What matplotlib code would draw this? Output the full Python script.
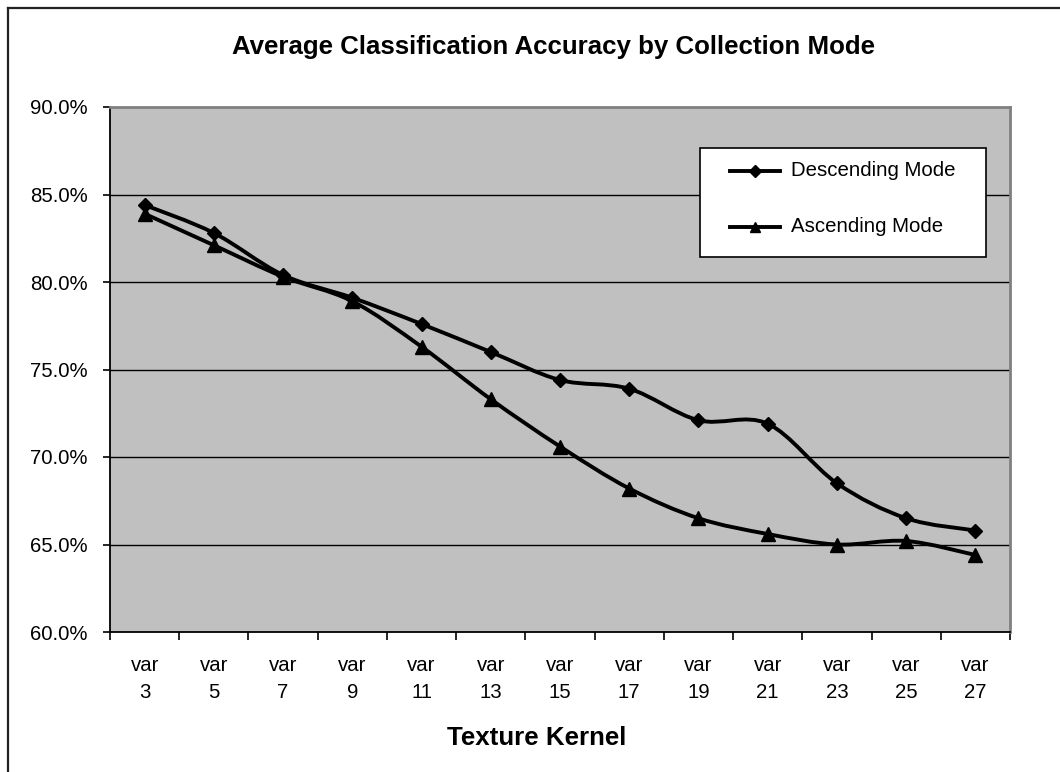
import numpy as np
import matplotlib
matplotlib.use("Agg")
import matplotlib.pyplot as plt
from matplotlib.path import Path
from matplotlib.patches import PathPatch, Rectangle
from matplotlib.lines import Line2D
from matplotlib.ticker import FuncFormatter, FixedLocator, NullFormatter

plt.rcParams["font.family"] = ["Liberation Sans", "DejaVu Sans"]

# ---- data ----
kernels = ["var\n3", "var\n5", "var\n7", "var\n9", "var\n11", "var\n13", "var\n15",
           "var\n17", "var\n19", "var\n21", "var\n23", "var\n25", "var\n27"]
descending = [84.4, 82.8, 80.4, 79.1, 77.6, 76.0, 74.4, 73.9, 72.1, 71.9, 68.5, 66.5, 65.8]
ascending = [83.9, 82.1, 80.3, 78.9, 76.3, 73.3, 70.6, 68.2, 66.5, 65.6, 65.0, 65.2, 64.4]
series_names = ["Descending Mode", "Ascending Mode"]
y_ticks = [60, 65, 70, 75, 80, 85, 90]

W, H = 1060, 772
fig = plt.figure(figsize=(W / 100, H / 100), dpi=100)


def fx(px):
    return px / W


def fy(py):
    return 1 - py / H


left, right, top, bottom = 110, 1010, 107, 632
ax = fig.add_axes([fx(left), fy(bottom), (right - left) / W, (bottom - top) / H])
ax.set_facecolor("#C0C0C0")

x = np.arange(len(kernels))
ax.set_xlim(-0.5, len(kernels) - 0.5)
ax.set_ylim(y_ticks[0], y_ticks[-1])


def smooth_path(xs, ys):
    """Catmull-Rom style Bezier through every point."""
    pts = np.column_stack([xs, ys]).astype(float)
    verts = [pts[0]]
    codes = [Path.MOVETO]
    n = len(pts)
    for i in range(n - 1):
        p0 = pts[i - 1] if i > 0 else pts[i]
        p1 = pts[i]
        p2 = pts[i + 1]
        p3 = pts[i + 2] if i + 2 < n else pts[i + 1]
        verts += [p1 + (p2 - p0) / 6.0, p2 - (p3 - p1) / 6.0, p2]
        codes += [Path.CURVE4] * 3
    return Path(verts, codes)


LW = 2.8
styles = [dict(marker="D", ms=7.6), dict(marker="^", ms=10.0)]
for vals, st in zip([descending, ascending], styles):
    ax.add_patch(PathPatch(smooth_path(x, vals), fill=False, lw=LW,
                           edgecolor="black", capstyle="round", joinstyle="round", zorder=3))
    ax.plot(x, vals, linestyle="none", marker=st["marker"], ms=st["ms"],
            color="black", mec="black", mew=1.0, zorder=4)

# gridlines
for v in y_ticks[1:-1]:
    ax.axhline(v, color="black", lw=1.0, zorder=1)

# spines
for s in ["top", "right"]:
    ax.spines[s].set_color("#808080")
    ax.spines[s].set_linewidth(2.0)
for s in ["left", "bottom"]:
    ax.spines[s].set_color("black")
    ax.spines[s].set_linewidth(1.3)

# y axis
ax.yaxis.set_major_locator(FixedLocator(y_ticks))
ax.yaxis.set_major_formatter(FuncFormatter(lambda v, p: f"{v:.1f}%"))
ax.tick_params(axis="y", direction="out", length=5, width=1.2, pad=11,
               labelsize=14.7, colors="black")

# x axis: ticks on category boundaries, labels centred in each category
ax.xaxis.set_major_locator(FixedLocator(np.arange(len(kernels) + 1) - 0.5))
ax.xaxis.set_major_formatter(NullFormatter())
ax.xaxis.set_minor_locator(FixedLocator(x))
ax.set_xticklabels(kernels, minor=True)
ax.tick_params(axis="x", which="major", direction="out", length=6, width=1.2)
ax.tick_params(axis="x", which="minor", length=0, pad=17, labelsize=14.7)
for lbl in ax.get_xticklabels(minor=True):
    lbl.set_linespacing(1.55)

# title and axis title
fig.text(fx(553), fy(47), "Average Classification Accuracy by Collection Mode",
         ha="center", va="center", fontsize=18.6, fontweight="bold")
fig.text(fx(537), fy(738), "Texture Kernel", ha="center", va="center",
         fontsize=18.6, fontweight="bold")

# legend box
lg_l, lg_t, lg_r, lg_b = 700, 148, 986, 257
fig.patches.append(Rectangle((fx(lg_l), fy(lg_b)), (lg_r - lg_l) / W, (lg_b - lg_t) / H,
                             transform=fig.transFigure, facecolor="white",
                             edgecolor="black", lw=1.2, zorder=5))
for (ypx, st, name) in zip([171, 227], styles, series_names):
    fig.add_artist(Line2D([fx(730), fx(780)], [fy(ypx), fy(ypx)], color="black", lw=LW,
                          zorder=6, transform=fig.transFigure))
    fig.add_artist(Line2D([fx(755)], [fy(ypx)], marker=st["marker"], ms=st["ms"] * 0.75,
                          color="black", mew=1.0, linestyle="none", zorder=7,
                          transform=fig.transFigure))
    fig.text(fx(791), fy(ypx), name, ha="left", va="center", fontsize=14.7, zorder=7)

# outer chart frame
fig.add_artist(Line2D([fx(7.5), fx(7.5)], [fy(7.5), 0], color="#222222", lw=1.6,
                      transform=fig.transFigure))
fig.add_artist(Line2D([fx(7.5), 1], [fy(7.5), fy(7.5)], color="#222222", lw=1.6,
                      transform=fig.transFigure))

fig.savefig("out.png", dpi=100)
